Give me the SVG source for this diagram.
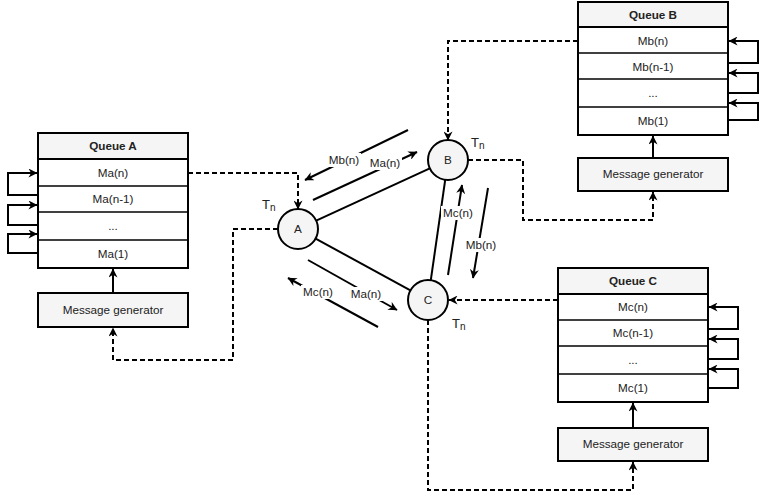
<svg xmlns="http://www.w3.org/2000/svg" width="767" height="499" viewBox="0 0 767 499">
<defs>
<marker id="arr" viewBox="0 0 10 10" refX="9.5" refY="5" markerWidth="10" markerHeight="9" markerUnits="userSpaceOnUse" orient="auto">
<path d="M0,0 L10,5 L0,10 L3,5 z" fill="#000"/>
</marker>
<style>
.box{fill:#fff;stroke:#000;stroke-width:2}
.hdr{fill:#f5f5f5;stroke:#000;stroke-width:2}
.div{stroke:#000;stroke-width:1.5}
.t{font-family:"Liberation Sans",Arial,sans-serif;font-size:11.7px;fill:#222;text-anchor:middle}
.b{font-weight:bold}
.node{fill:#f5f5f5;stroke:#000;stroke-width:2}
.solid{fill:none;stroke:#000;stroke-width:2}
.dash{fill:none;stroke:#000;stroke-width:2;stroke-dasharray:5 3}
.lbg{fill:#fff}
.tn{font-family:"Liberation Sans",Arial,sans-serif;font-size:13px;fill:#222}
</style>
</defs>
<rect width="767" height="499" fill="#fff"/>

<g id="queueA">
<rect class="box" x="38" y="133" width="150" height="135"/>
<rect class="hdr" x="38" y="133" width="150" height="26"/>
<line class="div" x1="38" y1="186" x2="188" y2="186"/>
<line class="div" x1="38" y1="212" x2="188" y2="212"/>
<line class="div" x1="38" y1="240" x2="188" y2="240"/>
<text class="t b" x="113" y="150">Queue A</text>
<text class="t" x="113" y="177">Ma(n)</text>
<text class="t" x="113" y="203">Ma(n-1)</text>
<text class="t" x="113" y="230">...</text>
<text class="t" x="113" y="258">Ma(1)</text>
</g>
<g id="genA">
<rect class="hdr" x="38" y="293" width="150" height="34"/>
<text class="t" x="113" y="314">Message generator</text>
</g>

<g id="queueB">
<rect class="box" x="578" y="2" width="150" height="133"/>
<rect class="hdr" x="578" y="2" width="150" height="25"/>
<line class="div" x1="578" y1="53" x2="728" y2="53"/>
<line class="div" x1="578" y1="79" x2="728" y2="79"/>
<line class="div" x1="578" y1="107" x2="728" y2="107"/>
<text class="t b" x="653" y="19">Queue B</text>
<text class="t" x="653" y="45">Mb(n)</text>
<text class="t" x="653" y="71">Mb(n-1)</text>
<text class="t" x="653" y="97">...</text>
<text class="t" x="653" y="125">Mb(1)</text>
</g>
<g id="genB">
<rect class="hdr" x="578" y="158" width="150" height="33"/>
<text class="t" x="653" y="178">Message generator</text>
</g>

<g id="queueC">
<rect class="box" x="558" y="268" width="150" height="134"/>
<rect class="hdr" x="558" y="268" width="150" height="26"/>
<line class="div" x1="558" y1="320" x2="708" y2="320"/>
<line class="div" x1="558" y1="346" x2="708" y2="346"/>
<line class="div" x1="558" y1="374" x2="708" y2="374"/>
<text class="t b" x="633" y="285">Queue C</text>
<text class="t" x="633" y="311">Mc(n)</text>
<text class="t" x="633" y="337">Mc(n-1)</text>
<text class="t" x="633" y="364">...</text>
<text class="t" x="633" y="392">Mc(1)</text>
</g>
<g id="genC">
<rect class="hdr" x="558" y="428" width="150" height="33"/>
<text class="t" x="633" y="448">Message generator</text>
</g>

<g id="connectors">
<path class="solid" d="M38,195 H8 V173 H37" marker-end="url(#arr)"/>
<path class="solid" d="M38,225 H8 V205 H37" marker-end="url(#arr)"/>
<path class="solid" d="M38,253 H8 V234 H37" marker-end="url(#arr)"/>
<path class="solid" d="M728,63 H758 V41 H729" marker-end="url(#arr)"/>
<path class="solid" d="M728,93 H758 V73 H729" marker-end="url(#arr)"/>
<path class="solid" d="M728,120 H758 V103 H729" marker-end="url(#arr)"/>
<path class="solid" d="M708,329 H738 V307 H709" marker-end="url(#arr)"/>
<path class="solid" d="M708,359 H738 V339 H709" marker-end="url(#arr)"/>
<path class="solid" d="M708,388 H738 V369 H709" marker-end="url(#arr)"/>
<path class="solid" d="M113,293 V269" marker-end="url(#arr)"/>
<path class="solid" d="M653,158 V136" marker-end="url(#arr)"/>
<path class="solid" d="M633,428 V403" marker-end="url(#arr)"/>
<path class="dash" d="M188,173 H298 V209" marker-end="url(#arr)"/>
<path class="dash" d="M278,229 H233 V360 H113 V328" marker-end="url(#arr)"/>
<path class="dash" d="M578,41 H448 V140" marker-end="url(#arr)"/>
<path class="dash" d="M468,160 H523 V220 H653 V192" marker-end="url(#arr)"/>
<path class="dash" d="M558,300 H449" marker-end="url(#arr)"/>
<path class="dash" d="M428,320 V490 H633 V462" marker-end="url(#arr)"/>
<line class="solid" x1="316.2" y1="220.6" x2="429.8" y2="168.4"/>
<line class="solid" x1="315.6" y1="238.6" x2="410.4" y2="290.4"/>
<line class="solid" x1="445.2" y1="179.8" x2="430.8" y2="280.2"/>
<path class="solid" d="M408,130 L305,180" marker-end="url(#arr)"/>
<path class="solid" d="M313,200 L417,152" marker-end="url(#arr)"/>
<path class="solid" d="M448,275 L462,185" marker-end="url(#arr)"/>
<path class="solid" d="M488,188 L473,278" marker-end="url(#arr)"/>
<path class="solid" d="M308,260 L397,310" marker-end="url(#arr)"/>
<path class="solid" d="M378,327 L288,278" marker-end="url(#arr)"/>
<rect class="lbg" x="327" y="153" width="34" height="14"/>
<text class="t" x="344" y="164">Mb(n)</text>
<rect class="lbg" x="368" y="156" width="34" height="14"/>
<text class="t" x="385" y="167">Ma(n)</text>
<rect class="lbg" x="441" y="206" width="34" height="14"/>
<text class="t" x="458" y="217">Mc(n)</text>
<rect class="lbg" x="464" y="238" width="34" height="14"/>
<text class="t" x="481" y="249">Mb(n)</text>
<rect class="lbg" x="349" y="287" width="34" height="14"/>
<text class="t" x="366" y="298">Ma(n)</text>
<rect class="lbg" x="301" y="285" width="34" height="14"/>
<text class="t" x="318" y="296">Mc(n)</text>
</g>

<g id="nodeA">
<circle class="node" cx="298" cy="229" r="20"/>
<text class="t" x="298" y="233">A</text>
<text class="tn" x="262" y="209">T<tspan font-size="10" dy="2">n</tspan></text>
</g>
<g id="nodeB">
<circle class="node" cx="448" cy="160" r="20"/>
<text class="t" x="448" y="164">B</text>
<text class="tn" x="471" y="147">T<tspan font-size="10" dy="2">n</tspan></text>
</g>
<g id="nodeC">
<circle class="node" cx="428" cy="300" r="20"/>
<text class="t" x="428" y="304">C</text>
<text class="tn" x="452" y="328">T<tspan font-size="10" dy="2">n</tspan></text>
</g>
</svg>
